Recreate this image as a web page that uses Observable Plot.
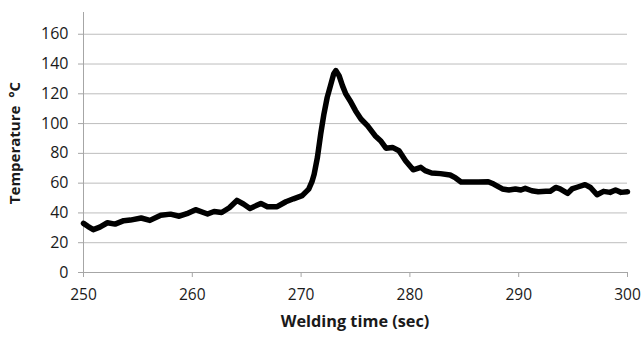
<!DOCTYPE html>
<html>
<head>
<meta charset="utf-8">
<script src="https://cdn.jsdelivr.net/npm/d3@7"></script>
<script src="https://cdn.jsdelivr.net/npm/@observablehq/plot@0.6"></script>
<style>
  html, body { margin: 0; padding: 0; background: #fff; }
  #chart svg { display: block; }
</style>
</head>
<body>
<div id="chart"></div>
<script>
const times = [250.0,250.4,250.9,251.5,252.2,252.9,253.7,254.3,255.3,256.1,257.1,258.0,258.8,259.5,260.3,261.4,262.0,262.7,263.4,264.1,264.7,265.3,266.3,266.9,267.8,268.6,269.3,270.1,270.7,271.0,271.2,271.5,271.8,272.1,272.4,272.7,273.0,273.2,273.5,273.8,274.1,274.5,275.0,275.5,276.1,276.8,277.3,277.8,278.4,279.0,279.6,280.3,281.0,281.4,282.0,282.8,283.7,284.2,284.7,285.5,286.3,287.2,287.7,288.5,289.1,289.7,290.2,290.6,291.2,291.8,292.5,292.9,293.4,293.8,294.5,294.9,295.5,296.1,296.6,297.2,297.8,298.4,298.9,299.4,300.0];
const temps = [33,31,28.8,30.5,33.4,32.5,34.8,35.2,36.6,35,38.5,39.2,37.8,39.5,42.2,39.3,41,40.3,43.5,48.4,46,43,46.4,44.2,44.2,47.5,49.5,51.6,56,61,66,77.3,93,106.5,117.6,125.5,133.4,135.6,132,125.5,120,115.4,108.7,103.1,98.6,91.9,88.5,83.5,84,81.8,75.1,69,70.6,68.4,66.8,66.4,65.5,63.5,60.8,60.8,60.8,61,59.4,56.1,55.4,56.1,55.4,56.5,54.9,54.2,54.5,54.5,57.1,56.1,53.1,56.1,57.6,59,57.1,52.2,54.5,53.8,55.4,53.8,54.2];
const xTicks = [250,260,270,280,290,300];
const yTicks = [0,20,40,60,80,100,120,140,160];
const gridTicks = [20,40,60,80,100,120,140,160];
const xTitle = "Welding time (sec)";
const yTitle = "Temperature  \u00B0C";

const data = times.map((t, i) => ({t, v: temps[i]}));

const W = 644, H = 337;
const mL = 83, mR = 17, mT = 12, mB = 65;

const plot = Plot.plot({
  width: W, height: H,
  marginLeft: mL, marginRight: mR, marginTop: mT, marginBottom: mB,
  style: {fontFamily: "'Open Sans', sans-serif", fontSize: "15px", background: "#fff"},
  x: {domain: [250, 300], label: null},
  y: {domain: [0, 174.6], label: null},
  marks: [
    Plot.gridY(gridTicks, {stroke: "#bdbdbd", strokeOpacity: 1, strokeWidth: 1}),
    Plot.ruleX([250], {stroke: "#a6a6a6", strokeWidth: 1}),
    Plot.ruleY([0], {stroke: "#a6a6a6", strokeWidth: 1}),
    Plot.axisX({ticks: xTicks, tickSize: 5, tickPadding: 11, stroke: "#a6a6a6", fill: "#1a1a1a", label: null, fontSize: 15.5}),
    Plot.axisY({ticks: yTicks, tickSize: 5, tickPadding: 10, stroke: "#a6a6a6", fill: "#1a1a1a", label: null, fontSize: 16}),
    Plot.line(data, {x: "t", y: "v", stroke: "#000", strokeWidth: 5.5, strokeLinejoin: "round", strokeLinecap: "round"})
  ]
});

const svg = d3.select(plot);
svg.append("text")
  .attr("x", 355).attr("y", 323)
  .attr("text-anchor", "middle").attr("dominant-baseline", "middle")
  .attr("font-family", "'Open Sans', sans-serif").attr("font-weight", "bold")
  .attr("font-size", 16.3).attr("fill", "#1a1a1a")
  .text(xTitle);
svg.append("text")
  .attr("transform", "translate(16,143) rotate(-90)")
  .attr("text-anchor", "middle").attr("dominant-baseline", "middle")
  .attr("font-family", "'Open Sans', sans-serif").attr("font-weight", "bold")
  .attr("font-size", 15).attr("fill", "#1a1a1a")
  .text(yTitle);

document.getElementById("chart").append(plot);
</script>
</body>
</html>
